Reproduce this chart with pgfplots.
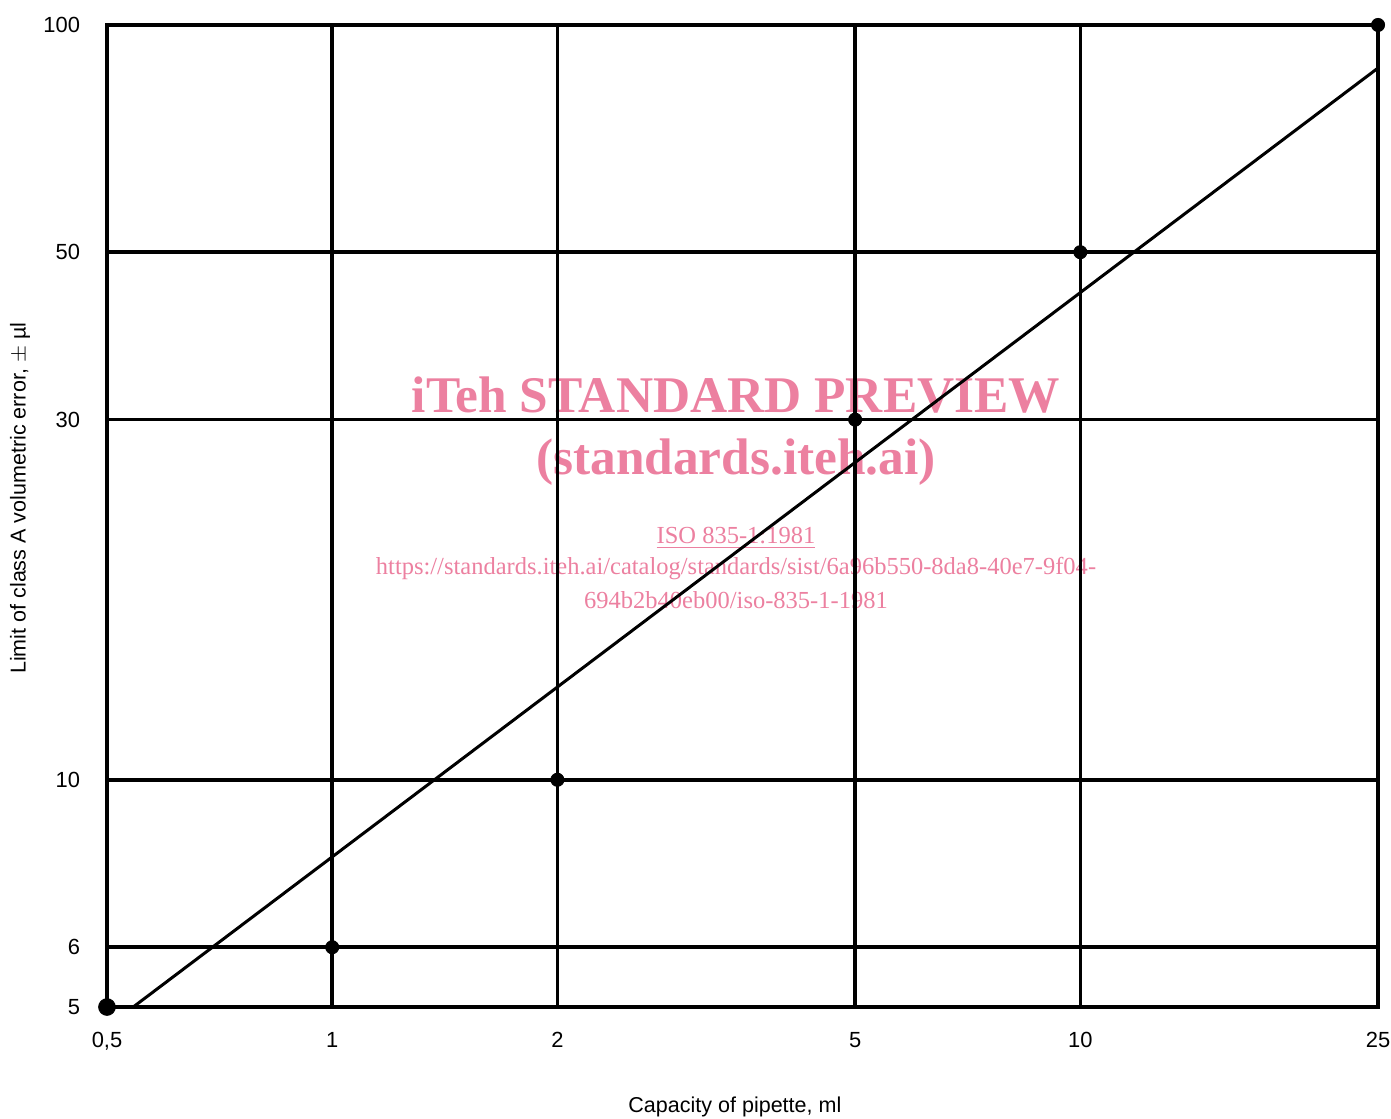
\documentclass[border=0pt]{standalone}
\usepackage{pgfplots}
\pgfplotsset{compat=1.18}
\usepackage{fontspec}
\setmainfont{Liberation Sans}
\newfontfamily\wmfont{Liberation Serif}
\definecolor{wmpink}{RGB}{236,128,160}

\begin{document}
\begin{tikzpicture}[x=0.5bp,y=0.5bp]
% watermark, drawn first so the grid lies over it
\node[wmpink,font=\wmfont\bfseries\fontsize{25.8}{28}\selectfont] at (629,612) {iTeh STANDARD PREVIEW};
\node[wmpink,font=\wmfont\bfseries\fontsize{25.8}{28}\selectfont] at (629,545) {(standards.iteh.ai)};
\node[wmpink,font=\wmfont\fontsize{12.3}{14}\selectfont] at (629,469) {\underline{ISO 835-1:1981}};
\node[wmpink,font=\wmfont\fontsize{12.3}{14}\selectfont] at (629,438) {https://standards.iteh.ai/catalog/standards/sist/6a96b550-8da8-40e7-9f04-};
\node[wmpink,font=\wmfont\fontsize{12.3}{14}\selectfont] at (629,407) {694b2b40eb00/iso-835-1-1981};

\begin{axis}[
    xmode=log, ymode=log,
    scale only axis,
    width=635.5bp, height=491bp,
    xmin=0.5, xmax=25,
    ymin=5, ymax=100,
    xtick={0.5,1,2,5,10,25},
    xticklabels={{0,5},1,2,5,10,25},
    ytick={5,6,10,30,50,100},
    yticklabels={5,6,10,30,50,100},
    grid=major,
    major grid style={black,line width=1.8bp},
    axis line style={line width=2.4bp},
    major tick length=0pt,
    minor tick num=0,
    tick label style={font=\fontsize{11}{13}\selectfont},
    xticklabel style={yshift=-9bp},
    yticklabel style={xshift=-10bp},
    xlabel={Capacity of pipette, ml},
    ylabel={Limit of class A volumetric error, $\pm$ µl},
    label style={font=\fontsize{10.8}{12}\selectfont},
    xlabel style={at={(axis description cs:0.494,-0.1018)},anchor=center},
    ylabel style={at={(axis description cs:-0.0684,0.518)},anchor=center},
    clip=false,
  ]
  \addplot[black,line width=1.5bp] coordinates {(0.542,5) (25,87.7)};
  \addplot[only marks,mark=*,mark size=3.3bp,black]
    coordinates {(1,6) (2,10) (5,30) (10,50) (25,100)};
  \addplot[only marks,mark=*,mark size=4.2bp,black]
    coordinates {(0.5,5)};
\end{axis}
\pgfresetboundingbox
\path[use as bounding box] (-107,-111) rectangle (1284,1007);
\end{tikzpicture}
\end{document}
